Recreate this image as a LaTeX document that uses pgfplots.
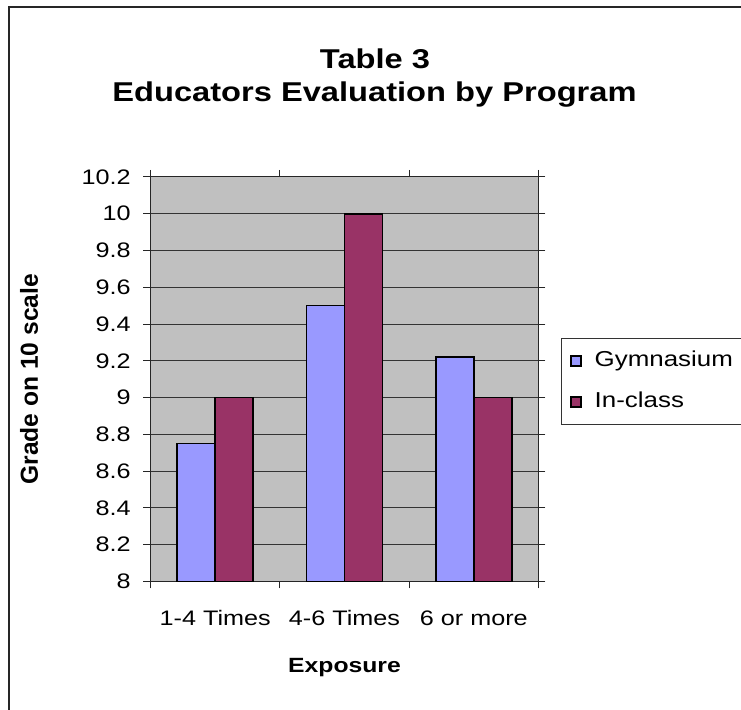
\documentclass[border=0pt]{standalone}
\usepackage{fontspec}
\setmainfont[FakeStretch=1.2]{Liberation Sans}
\newfontfamily\labelfont{Liberation Sans}
\usepackage{pgfplots}
\pgfplotsset{compat=1.18}
\definecolor{gymfill}{HTML}{9999FF}
\definecolor{classfill}{HTML}{993366}
\definecolor{plotbg}{HTML}{C0C0C0}

\begin{document}
\begin{tikzpicture}
\useasboundingbox (0pt,0pt) rectangle (370.5pt,-355pt);
% chart frame
\draw[black!85, line width=0.9pt] (4.5pt,-360pt) -- (4.5pt,-3.5pt) -- (375pt,-3.5pt);
% chart title
\node[anchor=base, font=\fontsize{13.6}{16}\selectfont\bfseries] at (187.5pt,-34.5pt) {Table 3};
\node[anchor=base, font=\fontsize{13.6}{16}\selectfont\bfseries] at (187.25pt,-51pt) {Educators Evaluation by Program};

\begin{axis}[
  at={(75.25pt,-290.75pt)}, anchor=south west,
  scale only axis, width=194pt, height=202.25pt,
  xmin=-0.5, xmax=2.5, ymin=8, ymax=10.2,
  ybar=0pt, bar width=19pt,
  axis background/.style={fill=plotbg},
  axis line style={black!85, line width=0.5pt},
  tick align=outside,
  major tick length=3.5pt, minor tick length=3.5pt,
  tick style={black!85, line width=0.5pt},
  xtick={0,1,2},
  xticklabels={1-4 Times, 4-6 Times, 6 or more},
  major x tick style={draw=none},
  minor xtick={-0.5,0.5,1.5,2.5},
  ytick={8,8.2,8.4,8.6,8.8,9,9.2,9.4,9.6,9.8,10,10.2},
  ymajorgrids,
  major grid style={black!80, line width=0.5pt},
  /pgf/number format/assume math mode=true,
  ticklabel style={font=\fontsize{10.5}{12}\selectfont},
  yticklabel style={inner sep=0pt, anchor=east, xshift=-6.25pt},
  xticklabel style={inner sep=0pt, anchor=north, yshift=-10.75pt},
  xlabel={Exposure},
  xlabel style={font=\fontsize{10.3}{12}\selectfont\bfseries,
    at={(axis description cs:0.5,-0.2262)}, anchor=base},
  ylabel={Grade on 10 scale},
  ylabel style={font=\labelfont\fontsize{12.3}{14}\selectfont\bfseries,
    at={(axis description cs:-0.29,0.5)}, anchor=base},
  legend style={
    at={(axis description cs:1.058,0.602)}, anchor=north west,
    draw=black!80, line width=0.5pt, fill=white,
    inner xsep=4.5pt, inner ysep=6pt,
    row sep=10pt, column sep=6.5pt,
    font=\fontsize{10.8}{13}\selectfont,
    nodes={inner sep=0pt, text height=8pt, text depth=2.5pt},
  },
  legend cell align=left,
  legend image code/.code={
    \draw[#1, draw=black, line width=0.6pt] (0pt,-2.5pt) rectangle (5pt,2.5pt);
  },
]
\addplot[fill=gymfill, draw=black, line width=0.8pt] coordinates {(0,8.75) (1,9.5) (2,9.22)};
\addplot[fill=classfill, draw=black, line width=0.8pt] coordinates {(0,9) (1,10) (2,9)};
\legend{Gymnasium, In-class}
\end{axis}
\end{tikzpicture}
\end{document}
